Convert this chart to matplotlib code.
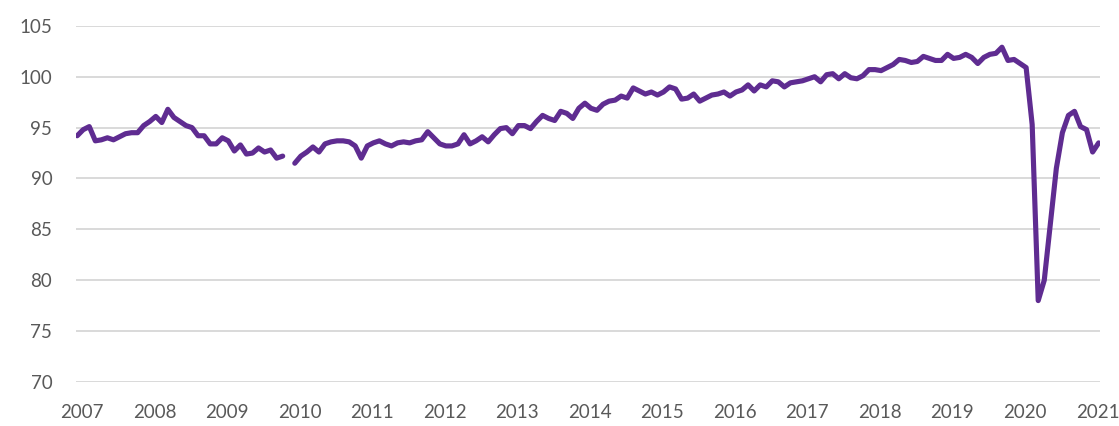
import numpy as np
import matplotlib.pyplot as plt

# monthly index, Jan 2007 .. Feb 2021 (Dec 2009 missing)
years = list(range(2007, 2022))
v2007 = [94.2, 94.8, 95.1, 93.7, 93.8, 94.0, 93.8, 94.1, 94.4, 94.5, 94.5, 95.2]
v2008 = [95.6, 96.1, 95.5, 96.8, 96.0, 95.6, 95.2, 95.0, 94.2, 94.2, 93.4, 93.4]
v2009 = [94.0, 93.7, 92.7, 93.3, 92.4, 92.5, 93.0, 92.6, 92.8, 92.0, 92.2, np.nan]
v2010 = [91.5, 92.2, 92.6, 93.1, 92.6, 93.4, 93.6, 93.7, 93.7, 93.6, 93.2, 92.0]
v2011 = [93.2, 93.5, 93.7, 93.4, 93.2, 93.5, 93.6, 93.5, 93.7, 93.8, 94.6, 94.0]
v2012 = [93.4, 93.2, 93.2, 93.4, 94.3, 93.4, 93.7, 94.1, 93.6, 94.3, 94.9, 95.0]
v2013 = [94.4, 95.2, 95.2, 94.9, 95.6, 96.2, 95.9, 95.7, 96.6, 96.4, 95.9, 96.9]
v2014 = [97.4, 96.9, 96.7, 97.3, 97.6, 97.7, 98.1, 97.9, 98.9, 98.6, 98.3, 98.5]
v2015 = [98.2, 98.5, 99.0, 98.8, 97.8, 97.9, 98.3, 97.6, 97.9, 98.2, 98.3, 98.5]
v2016 = [98.1, 98.5, 98.7, 99.2, 98.6, 99.2, 99.0, 99.6, 99.5, 99.0, 99.4, 99.5]
v2017 = [99.6, 99.8, 100.0, 99.5, 100.2, 100.3, 99.8, 100.3, 99.9, 99.8, 100.1, 100.7]
v2018 = [100.7, 100.6, 100.9, 101.2, 101.7, 101.6, 101.4, 101.5, 102.0, 101.8, 101.6, 101.6]
v2019 = [102.2, 101.8, 101.9, 102.2, 101.9, 101.3, 101.9, 102.2, 102.3, 102.9, 101.6, 101.7]
v2020 = [101.3, 100.9, 95.3, 78.0, 80.0, 85.5, 91.0, 94.5, 96.2, 96.6, 95.1, 94.8]
v2021 = [92.6, 93.5]

values = np.array(v2007 + v2008 + v2009 + v2010 + v2011 + v2012 + v2013 +
                  v2014 + v2015 + v2016 + v2017 + v2018 + v2019 + v2020 + v2021)
months = np.arange(len(values))

plt.rcParams['font.family'] = ['Lato', 'DejaVu Sans']

fig = plt.figure(figsize=(11.19, 4.26), dpi=100)
ax = fig.add_axes([0.0679, 0.1033, 0.915, 0.836])

ax.plot(months, values, color='#5f2c91', linewidth=3.7,
        solid_joinstyle='round', solid_capstyle='round')

ax.set_ylim(70, 105)
ax.set_yticks(range(70, 106, 5))
ax.set_xlim(-0.2, 169.2)
ax.set_xticks([12 * k + 0.8 for k in range(len(years))])
ax.set_xticklabels([str(y) for y in years])

ax.grid(axis='y', color='#d9d9d9', linewidth=1.4)
ax.set_axisbelow(True)
for s in ax.spines.values():
    s.set_visible(False)
ax.tick_params(length=0, labelsize=13.5, labelcolor='#595959')
ax.tick_params(axis='y', pad=17)
ax.tick_params(axis='x', pad=16)

fig.savefig('out.png', dpi=100)
